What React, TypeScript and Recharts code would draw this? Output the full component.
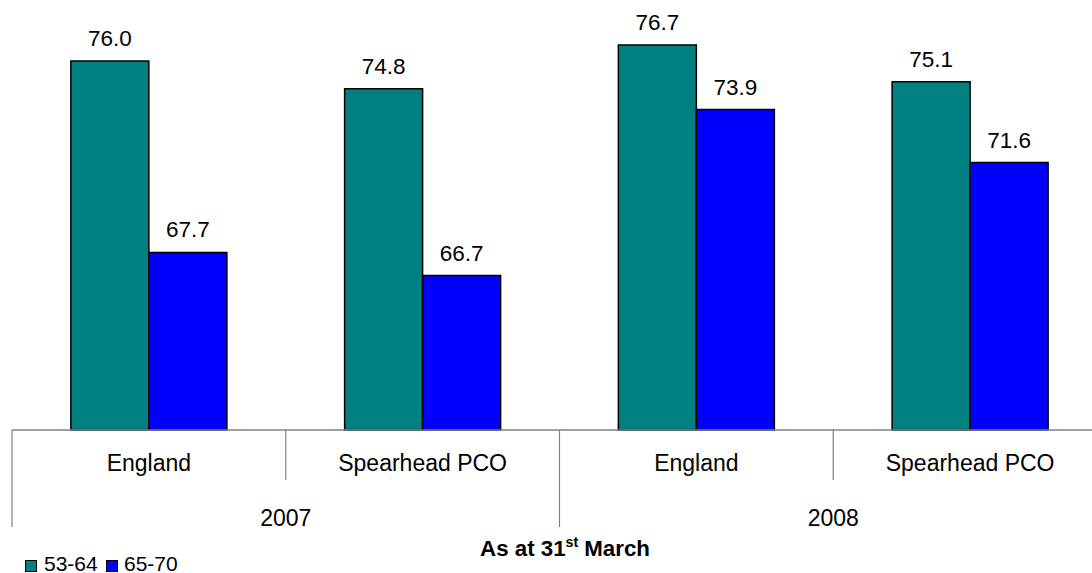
import React from 'react';
import { BarChart, Bar, XAxis, YAxis, LabelList } from 'recharts';

const regions = ['England', 'Spearhead PCO', 'England', 'Spearhead PCO'];
const years = ['2007', '2007', '2008', '2008'];
const age5364 = [76.0, 74.8, 76.7, 75.1];
const age6570 = [67.7, 66.7, 73.9, 71.6];
const seriesNames = ['53-64', '65-70'];
const seriesColors = ['#008080', '#0000FF'];

const data = regions.map((region, i) => ({
  region,
  year: years[i],
  a: age5364[i],
  b: age6570[i],
}));

const FONT = '"Liberation Sans", Arial, Helvetica, sans-serif';
const GRID = '#808080';

// two-level category axis: region label + separators, year label under each pair
const AxisTick = (props: any) => {
  const { x, y, payload } = props;
  const idx: number = payload.index;
  const half: number = payload.offset ?? 136.9;
  const first = idx === 0 || years[idx] !== years[idx - 1];
  const last = idx === regions.length - 1;
  return (
    <g>
      <line
        x1={x - half}
        x2={x - half}
        y1={y}
        y2={y + (first ? 97 : 50)}
        stroke={GRID}
        strokeWidth={1.2}
      />
      {last && (
        <line x1={x + half} x2={x + half} y1={y} y2={y + 97} stroke={GRID} strokeWidth={1.2} />
      )}
      <text x={x} y={y + 41} textAnchor="middle" fontSize={23} fill="#000" fontFamily={FONT}>
        {payload.value}
      </text>
      {first && (
        <text x={x + half} y={y + 96} textAnchor="middle" fontSize={23} fill="#000" fontFamily={FONT}>
          {years[idx]}
        </text>
      )}
    </g>
  );
};

const App: React.FC = () => {
  return (
    <div style={{ position: 'fixed', left: 0, top: 0, width: 1092, height: 573, overflow: 'hidden', background: '#fff' }}>
      <BarChart
        width={1110}
        height={573}
        data={data}
        margin={{ top: 15, right: 3, left: 12, bottom: 0 }}
        barCategoryGap="21.5%"
        barGap={0}
      >
        <XAxis
          dataKey="region"
          interval={0}
          height={143}
          tickLine={false}
          tickSize={0}
          tickMargin={0}
          axisLine={{ stroke: GRID, strokeWidth: 1.5 }}
          tick={<AxisTick />}
        />
        <YAxis hide domain={[60, 78]} />
        <Bar dataKey="a" name={seriesNames[0]} fill={seriesColors[0]} stroke="#000" strokeWidth={1.5} isAnimationActive={false}>
          <LabelList
            dataKey="a"
            position="top"
            offset={15}
            formatter={(v: any) => Number(v).toFixed(1)}
            style={{ fontSize: 22.5, fill: '#000', fontFamily: FONT }}
          />
        </Bar>
        <Bar dataKey="b" name={seriesNames[1]} fill={seriesColors[1]} stroke="#000" strokeWidth={1.5} isAnimationActive={false}>
          <LabelList
            dataKey="b"
            position="top"
            offset={15}
            formatter={(v: any) => Number(v).toFixed(1)}
            style={{ fontSize: 22.5, fill: '#000', fontFamily: FONT }}
          />
        </Bar>
      </BarChart>
      <svg width={1092} height={573} style={{ position: 'absolute', left: 0, top: 0, pointerEvents: 'none' }}>
        <text x={565} y={556} textAnchor="middle" fontSize={22.3} fontWeight="bold" fontFamily={FONT} fill="#000">
          As at 31
          <tspan fontSize={14} dy={-9}>st</tspan>
          <tspan fontSize={22.3} dy={9}> March</tspan>
        </text>
        {seriesNames.map((name, i) => (
          <g key={name}>
            <rect x={25.5 + i * 81} y={560.5} width={11} height={11} fill={seriesColors[i]} stroke="#000" strokeWidth={1} />
            <text x={44 + i * 80} y={571} fontSize={21} fontFamily={FONT} fill="#000">
              {name}
            </text>
          </g>
        ))}
      </svg>
    </div>
  );
};

export default App;
